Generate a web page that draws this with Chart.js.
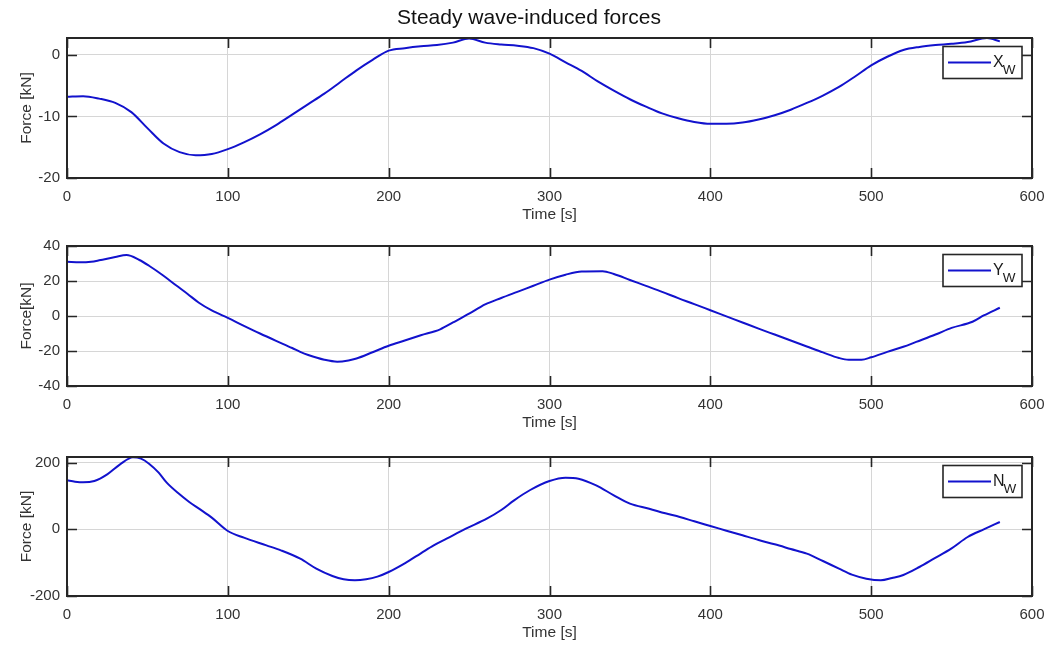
<!DOCTYPE html>
<html><head><meta charset="utf-8">
<script src="https://cdn.jsdelivr.net/npm/chart.js@4.4.1/dist/chart.umd.min.js"></script>
<style>
html,body{margin:0;padding:0;background:#fff;}
#wrap{position:relative;width:1051px;height:647px;overflow:hidden;background:#fff;}
canvas{position:absolute;left:0;}
</style></head><body>
<div id="wrap">
<canvas id="c1" width="1051" height="228" style="top:0px;width:1051px;height:228px"></canvas>
<canvas id="c2" width="1051" height="202" style="top:234px;width:1051px;height:202px"></canvas>
<canvas id="c3" width="1051" height="201" style="top:445px;width:1051px;height:201px"></canvas>
</div>
<script>
// ---------- data ----------
const chartTitle = 'Steady wave-induced forces';
const xTitle = 'Time [s]';
const xTicks = [0, 100, 200, 300, 400, 500, 600];

const xwTime  = [0,10,20,30,40,50,60,70,80,90,100,110,120,130,140,150,160,170,180,190,200,210,220,230,240,250,260,270,280,290,300,310,320,330,340,350,360,370,380,390,400,410,420,430,440,450,460,470,480,490,500,510,520,530,540,550,560,572,580];
const xwForce = [-6.8,-6.7,-7.1,-7.8,-9.3,-11.9,-14.4,-15.8,-16.3,-16.1,-15.3,-14.2,-12.9,-11.4,-9.7,-8.0,-6.3,-4.4,-2.5,-0.8,0.7,1.1,1.4,1.6,2.0,2.65,2.0,1.7,1.5,1.1,0.2,-1.2,-2.6,-4.3,-5.8,-7.2,-8.4,-9.5,-10.3,-10.9,-11.2,-11.2,-11.0,-10.5,-9.8,-8.9,-7.8,-6.6,-5.2,-3.5,-1.7,-0.3,0.8,1.3,1.6,1.8,2.1,2.75,2.2];
const xwTicks = [-20, -10, 0];

const ywTime  = [0,8,15,20,30,37,45,51,60,68,75,82,90,100,110,120,130,140,145,150,160,168,175,180,190,200,210,220,232,240,250,257,260,270,280,290,300,310,320,333,340,350,360,370,380,390,400,410,420,430,440,450,460,470,480,486,494,500,510,520,528,540,550,563,570,580];
const ywForce = [31,30.7,31,31.8,33.7,34.8,32,28.7,23,17.4,12.6,7.6,3.2,-1.1,-5.6,-10,-14.2,-18.3,-20.5,-22.3,-25,-26.1,-25.4,-24.3,-20.7,-17,-14,-11,-7.6,-3.7,1.3,5.1,6.6,10.3,13.8,17.3,20.8,23.6,25.4,25.6,24,20.6,17.2,13.8,10.2,6.8,3.3,-0.2,-3.7,-7.2,-10.6,-14,-17.4,-20.8,-24,-25,-25,-23.6,-20.5,-17.6,-14.8,-10.6,-6.8,-3.3,0.3,4.7];
const ywTicks = [-40, -20, 0, 20, 40];

const nwTime  = [0,5,10,17,25,33,41,46,51,57,62,70,76,83,90,100,110,124,133,145,155,165,172,179,186,193,200,210,220,228,236,248,261,270,278,288,300,310,318,329,340,350,362,372,381,390,400,410,420,430,440,450,460,470,480,488,497,506,513,520,530,539,550,560,570,580];
const nwForce = [147,143,141,145,165,195,216,212,197,170,140,105,82,59,35,-5,-25,-48,-63,-88,-118,-140,-150,-153,-150,-142,-128,-102,-72,-48,-28,2,32,58,87,118,145,155,152,132,102,77,62,48,37,24,10,-4,-18,-32,-45,-59,-73,-95,-118,-136,-148,-153,-146,-137,-113,-88,-57,-23,0,22];
const nwTicks = [-200, 0, 200];

const seriesNames = ['X', 'Y', 'N'];
const seriesSub = 'W';
const yTitles = ['Force [kN]', 'Force[kN]', 'Force [kN]'];

// ---------- styles ----------
const FONT = "'Liberation Sans', Arial, Helvetica, sans-serif";
const TXT = '#333333';
const AXIS = '#262626';
const GRID = '#d6d6d6';
const LINE = 'rgb(18,18,205)';

const figTitlePlugin = {
  id: 'figTitle',
  afterDraw(chart, args, opts) {
    if (!opts.text) return;
    const ctx = chart.ctx;
    ctx.save();
    ctx.fillStyle = '#111111';
    ctx.font = opts.size + 'px ' + FONT;
    ctx.textAlign = 'center';
    ctx.textBaseline = 'middle';
    ctx.fillText(opts.text, opts.x, opts.y);
    ctx.restore();
  }
};

const framePlugin = {
  id: 'matlabFrame',
  afterDraw(chart, args, opts) {
    const {ctx, chartArea: a, scales: {x, y}} = chart;
    const TL = 10;
    ctx.save();
    ctx.strokeStyle = AXIS;
    ctx.lineWidth = 1.6;
    ctx.beginPath();
    x.ticks.forEach(t => {
      const px = Math.round(x.getPixelForValue(t.value)) + 0.5;
      ctx.moveTo(px, a.bottom); ctx.lineTo(px, a.bottom - TL);
      ctx.moveTo(px, a.top); ctx.lineTo(px, a.top + TL);
    });
    y.ticks.forEach(t => {
      const py = Math.round(y.getPixelForValue(t.value)) + 0.5;
      ctx.moveTo(a.left, py); ctx.lineTo(a.left + TL, py);
      ctx.moveTo(a.right, py); ctx.lineTo(a.right - TL, py);
    });
    ctx.stroke();
    ctx.lineWidth = 2;
    ctx.strokeRect(a.left, a.top, a.right - a.left, a.bottom - a.top);

    // legend box
    const ds = chart.data.datasets[0];
    const bw = 79, bh = 32;
    const bx = a.right - 10 - bw, by = a.top + 8.5;
    ctx.fillStyle = '#ffffff';
    ctx.fillRect(bx, by, bw, bh);
    ctx.lineWidth = 1.6;
    ctx.strokeStyle = AXIS;
    ctx.strokeRect(bx, by, bw, bh);
    ctx.strokeStyle = ds.borderColor;
    ctx.lineWidth = 2;
    ctx.beginPath();
    ctx.moveTo(bx + 5, by + 16); ctx.lineTo(bx + 48, by + 16);
    ctx.stroke();
    ctx.fillStyle = '#1a1a1a';
    ctx.textBaseline = 'alphabetic';
    ctx.textAlign = 'left';
    ctx.font = "16px " + FONT;
    ctx.fillText(opts.name, bx + 50, by + 20.5);
    const w = ctx.measureText(opts.name).width;
    ctx.font = "13.5px " + FONT;
    ctx.fillText(opts.sub, bx + 49 + w, by + 27);
    ctx.restore();
  }
};

function makeChart(id, idx, times, values, yMin, yMax, yTickVals, padTop, withTitle) {
  return new Chart(document.getElementById(id), {
    type: 'line',
    data: {
      datasets: [{
        label: seriesNames[idx] + seriesSub,
        data: times.map((t, i) => ({x: t, y: values[i]})),
        borderColor: LINE,
        borderWidth: 2,
        pointRadius: 0,
        cubicInterpolationMode: 'monotone',
        fill: false
      }]
    },
    options: {
      responsive: false,
      animation: false,
      devicePixelRatio: 1,
      layout: {padding: {left: 0, right: 19, top: padTop, bottom: 0}},
      plugins: {
        legend: {display: false},
        tooltip: {enabled: false},
        title: {display: false},
        figTitle: withTitle ? {text: chartTitle, x: 529, y: 18, size: 21} : {text: ''},
        matlabFrame: {name: seriesNames[idx], sub: seriesSub}
      },
      scales: {
        x: {
          type: 'linear', min: 0, max: 600,
          afterBuildTicks: s => { s.ticks = xTicks.map(v => ({value: v})); },
          afterFit: s => { s.height = 50; s.paddingLeft = 0; s.paddingRight = 0; },
          grid: {color: GRID, lineWidth: 1, drawTicks: false},
          border: {display: false},
          ticks: {padding: 10, color: TXT, font: {family: FONT, size: 15}, maxRotation: 0, callback: v => String(v)},
          title: {display: true, text: xTitle, color: TXT, font: {family: FONT, size: 15.5, lineHeight: 1.2}, padding: {top: 0, bottom: 4}}
        },
        y: {
          type: 'linear', min: yMin, max: yMax,
          afterBuildTicks: s => { s.ticks = yTickVals.map(v => ({value: v})); },
          afterFit: s => { s.width = 67; s.paddingTop = 0; s.paddingBottom = 0; },
          grid: {color: GRID, lineWidth: 1, drawTicks: false},
          border: {display: false},
          ticks: {padding: 7, color: TXT, font: {family: FONT, size: 15}, callback: v => String(v)},
          title: {display: true, text: yTitles[idx], color: TXT, font: {family: FONT, size: 15.5, lineHeight: 1.2}, padding: {top: 17, bottom: 0}}
        }
      }
    },
    plugins: [framePlugin, figTitlePlugin]
  });
}

makeChart('c1', 0, xwTime, xwForce, -20, 2.75, xwTicks, 38, true);
makeChart('c2', 1, ywTime, ywForce, -40, 40, ywTicks, 12, false);
makeChart('c3', 2, nwTime, nwForce, -200, 217, nwTicks, 12, false);
</script>
</body></html>
